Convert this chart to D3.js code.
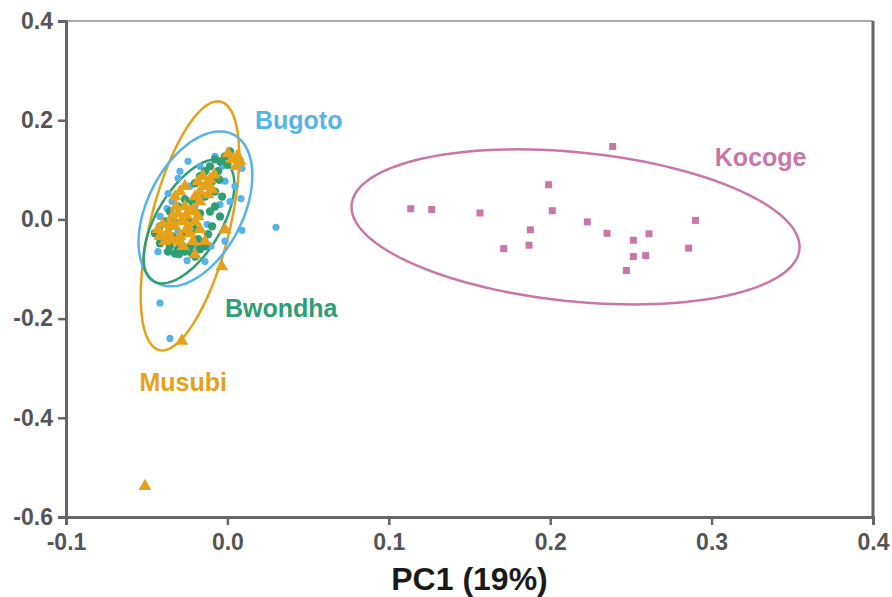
<!DOCTYPE html>
<html>
<head>
<meta charset="utf-8">
<script src="https://cdn.jsdelivr.net/npm/d3@7"></script>
<style>
  body { margin: 0; background: #fff; }
  text { font-family: "Liberation Sans", Arial, sans-serif; font-weight: bold; }
</style>
</head>
<body>
<svg width="892" height="597"></svg>
<script>
// PC1 / PC2 scores
var bugoto = [
  [0.009, 0.103], [0.0084, 0.042], [0.009, -0.022], [0.0301, -0.016], [-0.0418, -0.169],
  [-0.0356, -0.240], [-0.025, -0.083], [-0.0102, -0.054], [-0.0306, 0.083], [-0.0368, 0.052],
  [-0.0374, 0.022], [-0.0108, 0.071], [-0.0077, 0.127], [-0.0126, -0.010], [-0.0263, 0.042],
  [-0.0046, 0.030], [-0.0232, 0.067], [-0.017, 0.107], [-0.0294, 0.097], [-0.0343, 0.036],
  [-0.0201, 0.026], [-0.0015, 0.077], [0.0016, 0.036], [-0.0418, 0.006], [-0.0139, -0.085],
  [-0.0201, -0.054], [-0.0306, -0.024], [-0.0015, -0.044], [-0.0244, 0.117], [-0.0033, 0.107],
  [0.0047, 0.067], [-0.043, -0.065]
];
var bwondha = [
  [0.0016, 0.137], [-0.0015, 0.127], [-0.0046, 0.117], [-0.0077, 0.121], [-0.0108, 0.107],
  [-0.0058, 0.097], [-0.0139, 0.097], [-0.0095, 0.077], [-0.017, 0.087], [-0.0201, 0.073],
  [-0.0077, 0.056], [-0.0139, 0.046], [-0.0219, 0.036], [-0.0263, 0.040], [-0.0306, 0.026],
  [-0.0356, 0.016], [-0.0387, -0.004], [-0.0325, -0.008], [-0.0244, 0.000], [-0.017, 0.012],
  [-0.0108, 0.016], [-0.0077, 0.026], [-0.0201, -0.020], [-0.0263, -0.028], [-0.0343, -0.034],
  [-0.0387, -0.040], [-0.0356, -0.054], [-0.0306, -0.060], [-0.0263, -0.065], [-0.0219, -0.069],
  [-0.017, -0.060], [-0.0139, -0.054], [-0.0294, -0.048], [-0.0232, -0.054], [-0.0325, -0.069],
  [-0.0368, -0.065], [-0.0418, -0.048], [-0.0182, -0.040], [-0.0095, -0.014], [-0.0046, 0.006],
  [-0.0033, 0.046], [-0.0418, -0.014], [-0.0449, -0.028], [-0.030, -0.070], [-0.020, -0.075],
  [-0.012, -0.030], [-0.005, 0.080], [0.0, 0.110]
];
var musubi = [
  [-0.0139, 0.067], [-0.017, 0.056], [-0.0182, 0.077], [-0.012, 0.050], [-0.0151, 0.087],
  [-0.0095, 0.060], [-0.0201, 0.046], [-0.017, 0.036], [-0.0108, 0.081], [0.0029, 0.121],
  [0.0066, 0.127], [0.0078, 0.117], [0.0004, 0.133], [0.0053, 0.107], [-0.0263, 0.026],
  [-0.0232, 0.016], [-0.0306, 0.012], [-0.0343, 0.006], [-0.0281, -0.004], [-0.0244, -0.014],
  [-0.0325, -0.014], [-0.0368, -0.024], [-0.0418, -0.034], [-0.0387, -0.044], [-0.0343, -0.040],
  [-0.0294, -0.034], [-0.0232, -0.028], [-0.0201, -0.004], [-0.0182, 0.006], [-0.0257, 0.008],
  [-0.0318, 0.026], [-0.0356, -0.008], [-0.043, -0.020], [-0.017, -0.020], [-0.0139, -0.044],
  [-0.0213, -0.044], [-0.0275, -0.054], [-0.0294, 0.056], [-0.0325, 0.046], [-0.0263, 0.067],
  [-0.036, -0.030], [-0.030, -0.045], [-0.025, -0.020], [-0.021, 0.020], [-0.012, 0.070],
  [-0.008, 0.090], [-0.040, -0.010], [-0.028, 0.000],
  [-0.0511, -0.538], [-0.0035, -0.095], [-0.0283, -0.245], [0.0058, 0.127], [-0.0015, -0.021],
  [-0.0201, -0.071]
];
var kocoge = [
  [0.2387, 0.147], [0.199, 0.070], [0.1136, 0.0215], [0.1266, 0.020], [0.1565, 0.013],
  [0.2013, 0.0175], [0.223, -0.005], [0.29, -0.002], [0.1877, -0.021], [0.2352, -0.028],
  [0.2612, -0.029], [0.2515, -0.042], [0.1869, -0.052], [0.1712, -0.059], [0.2858, -0.058],
  [0.2592, -0.073], [0.2515, -0.075], [0.2472, -0.103]
];

// ellipse = centre + u*cos(t) + v*sin(t), in data units
var ellipseNames = ["Musubi", "Bugoto", "Bwondha", "Kocoge"];
var ellipseCentres = [[-0.0232, -0.0131], [-0.0198, 0.0212], [-0.0238, -0.004], [0.2157, -0.0151]];
var ellipseU = [[0.0172, 0.251], [0.0152, 0.1562], [0.0167, 0.125], [0.1388, -0.0403]];
var ellipseV = [[0.0252, 0], [0.0318, 0], [0.0226, 0], [0, 0.151]];

var labelNames = ["Bugoto", "Bwondha", "Musubi", "Kocoge"];
var labelPos = [[0.0171, 0.182], [-0.0015, -0.197], [-0.0545, -0.346], [0.302, 0.107]];

var xTicks = [-0.1, 0.0, 0.1, 0.2, 0.3, 0.4];
var yTicks = [-0.6, -0.4, -0.2, 0.0, 0.2, 0.4];

var colors = {Bugoto: "#56B4E9", Bwondha: "#2E9E74", Musubi: "#E5A11A", Kocoge: "#C877A8"};

var svg = d3.select("svg");

var x = d3.scaleLinear().domain([-0.1, 0.4]).range([66, 873]);
var y = d3.scaleLinear().domain([-0.6, 0.4]).range([517, 21]);

// frame
svg.append("line").attr("x1", 66).attr("x2", 873).attr("y1", 21).attr("y2", 21)
    .attr("stroke", "#aaa").attr("stroke-width", 2);
svg.append("line").attr("x1", 873).attr("x2", 873).attr("y1", 21).attr("y2", 517)
    .attr("stroke", "#666").attr("stroke-width", 3);

var fmt = function(d) { return d3.format(".1f")(d).replace("\u2212", "-"); };

var xAxis = svg.append("g")
    .attr("transform", "translate(0,517)")
    .call(d3.axisBottom(x).tickValues(xTicks).tickFormat(fmt).tickSizeOuter(0).tickSize(8).tickPadding(9));
var yAxis = svg.append("g")
    .attr("transform", "translate(66,0)")
    .call(d3.axisLeft(y).tickValues(yTicks).tickFormat(fmt).tickSizeOuter(0).tickSize(8).tickPadding(5));

[xAxis, yAxis].forEach(function(a) {
  a.select(".domain").attr("stroke", "#666").attr("stroke-width", 3);
  a.selectAll(".tick line").attr("stroke", "#666").attr("stroke-width", 2.5);
  a.selectAll(".tick text").attr("fill", "#555").style("font-size", "23px")
      .style("font-family", "'Liberation Sans', Arial, sans-serif").style("font-weight", "bold");
});

svg.append("text")
    .attr("x", x(0.15)).attr("y", 590)
    .attr("text-anchor", "middle")
    .attr("fill", "#1a1a1a")
    .style("font-size", "32px")
    .text("PC1 (19%)");

// ellipses
var steps = d3.range(0, 120).map(function(i) { return i / 120 * 2 * Math.PI; });
var line = d3.line().curve(d3.curveLinearClosed);
ellipseNames.forEach(function(name, i) {
  var c = ellipseCentres[i], u = ellipseU[i], v = ellipseV[i];
  var pts = steps.map(function(t) {
    return [x(c[0] + u[0] * Math.cos(t) + v[0] * Math.sin(t)),
            y(c[1] + u[1] * Math.cos(t) + v[1] * Math.sin(t))];
  });
  svg.append("path").attr("d", line(pts))
      .attr("fill", "none").attr("stroke", colors[name]).attr("stroke-width", 2.5);
});

// points
svg.append("g").selectAll("circle").data(bugoto).enter().append("circle")
    .attr("cx", function(d) { return x(d[0]); })
    .attr("cy", function(d) { return y(d[1]); })
    .attr("r", 3.6).attr("fill", colors.Bugoto);

svg.append("g").selectAll("circle").data(bwondha).enter().append("circle")
    .attr("cx", function(d) { return x(d[0]); })
    .attr("cy", function(d) { return y(d[1]); })
    .attr("r", 4.2).attr("fill", colors.Bwondha);

svg.append("g").selectAll("path").data(musubi).enter().append("path")
    .attr("d", d3.symbol().type(d3.symbolTriangle).size(72))
    .attr("transform", function(d) { return "translate(" + x(d[0]) + "," + y(d[1]) + ")"; })
    .attr("fill", colors.Musubi);

svg.append("g").selectAll("path").data(kocoge).enter().append("path")
    .attr("d", d3.symbol().type(d3.symbolSquare).size(49))
    .attr("transform", function(d) { return "translate(" + x(d[0]) + "," + y(d[1]) + ")"; })
    .attr("fill", colors.Kocoge);

// group labels
svg.append("g").selectAll("text").data(labelNames).enter().append("text")
    .attr("x", function(d, i) { return x(labelPos[i][0]); })
    .attr("y", function(d, i) { return y(labelPos[i][1]); })
    .attr("fill", function(d) { return colors[d]; })
    .style("font-size", "25px")
    .text(function(d) { return d; });
</script>
</body>
</html>
